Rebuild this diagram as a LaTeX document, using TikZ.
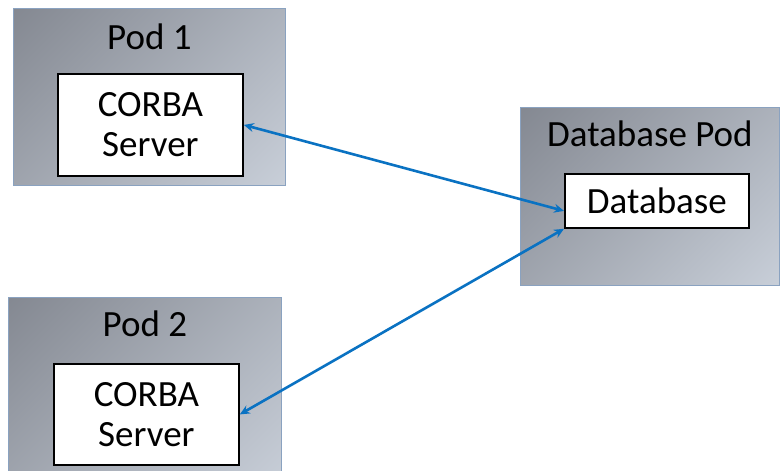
\documentclass[tikz,border=0pt]{standalone}
\usepackage{fontspec}
\setmainfont{Carlito}
\usepackage{xcolor}
\usepackage{tikz}
\usetikzlibrary{arrows.meta, positioning, calc}
\definecolor{poddark}{HTML}{767A83}
\definecolor{podlight}{HTML}{D6DDE7}
\definecolor{poddraw}{HTML}{8AA2C0}
\definecolor{linkblue}{HTML}{0A72C2}
\pgfdeclareverticalshading{podshade}{100bp}{color(0bp)=(podlight); color(100bp)=(poddark)}
\tikzset{
  pod/.style={rectangle, draw=poddraw, line width=0.8pt, shading=podshade, shading angle=45, anchor=north west, inner sep=0pt},
  podlbl/.style={font=\fontsize{37}{40}\selectfont, anchor=base, inner sep=0pt},
  svc/.style={rectangle, draw=black, fill=white, line width=1.8pt, anchor=north west, align=center, font=\fontsize{37}{40}\selectfont, inner sep=0pt},
  link/.style={{Stealth[length=10pt,width=9pt]}-{Stealth[length=10pt,width=9pt]}, line width=2.6pt, draw=linkblue},
}
\begin{document}
\begin{tikzpicture}[x=1pt, y=-1pt]
  \path[use as bounding box, clip] (0,0) rectangle (782,471);
  % pods
  \node[pod, minimum width=272pt, minimum height=177pt] (pod1) at (13,8) {};
  \node[pod, minimum width=259pt, minimum height=178pt] (dbpod) at (520,107) {};
  \node[pod, minimum width=273pt, minimum height=190pt] (pod2) at (8,297) {};
  \node[podlbl] (pod1lbl) at ([yshift=-41pt]pod1.north) {Pod 1};
  \node[podlbl] (dbpodlbl) at ([yshift=-39pt]dbpod.north) {Database Pod};
  \node[podlbl] (pod2lbl) at ([yshift=-39pt]pod2.north) {Pod 2};
  % services
  \node[svc, minimum width=185pt, minimum height=102pt] (srv1) at (57,73) {CORBA\\Server};
  \node[svc, minimum width=184pt, minimum height=54pt] (db) at (564,173) {Database};
  \node[svc, minimum width=185pt, minimum height=101pt] (srv2) at (53,363) {CORBA\\Server};
  % links
  \draw[link] (srv1.east) -- ([yshift=-10pt]db.west);
  \draw[link] (srv2.east) -- (db.south west);
\end{tikzpicture}
\end{document}
